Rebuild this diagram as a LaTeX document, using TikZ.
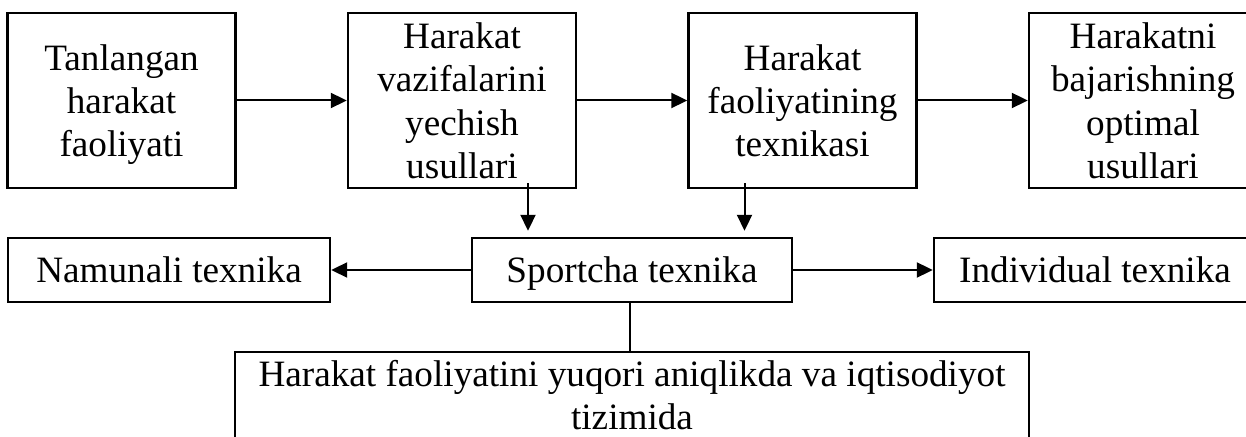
\documentclass[tikz,border=0pt]{standalone}
\usepackage{fontspec}
\setmainfont{Liberation Serif}
\usepackage{tikz}
\usetikzlibrary{arrows.meta,positioning,calc}

\begin{document}
\begin{tikzpicture}[
  x=0.5pt, y=-0.5pt,
  every node/.style={font=\fontsize{18.6}{21.6}\selectfont, text depth=0pt},
  box/.style={draw, line width=1.2pt, minimum width=114pt,
    minimum height=87.5pt, align=center, inner sep=2pt},
  widebox/.style={draw, line width=1.2pt, minimum width=161pt,
    minimum height=32pt, align=center, inner sep=2pt},
  link/.style={-{Triangle[length=8pt,width=7.5pt]}, line width=1pt}]
\clip (0,0) rectangle (1246,437);
\node[box] (chosen) at (121.5,100.5) {Tanlangan\\harakat\\faoliyati};
\node[box] (methods) at (462,100.5) {Harakat\\vazifalarini\\yechish\\usullari};
\node[box] (technique) at (802.5,100.5) {Harakat\\faoliyatining\\texnikasi};
\node[box] (optimal) at (1143,100.5) {Harakatni\\bajarishning\\optimal\\usullari};
\node[widebox] (model) at (169,270) {Namunali texnika};
\node[widebox, minimum width=160pt] (sport) at (632,270) {Sportcha texnika};
\node[widebox] (individual) at (1095,270) {Individual texnika};
\node[draw, line width=1.2pt, minimum width=397pt, minimum height=43pt,
      align=center, inner sep=2pt] (economy) at (632,395)
  {Harakat faoliyatini yuqori aniqlikda va iqtisodiyot\\tizimida};
\foreach \src/\dst in {chosen/methods, methods/technique, technique/optimal,
                        sport/model, sport/individual} {
  \draw[link] (\src) -- (\dst);}
\coordinate (m1) at ([xshift=33pt,yshift=3pt]methods.south);
\coordinate (m2) at ([xshift=-29pt,yshift=3pt]technique.south);
\foreach \c in {m1, m2} {
  \draw[link, shorten >=3pt] (\c) -- (\c |- sport.north);}
\draw[line width=1pt] ([xshift=-1pt]sport.south) -- ([xshift=-1pt]sport.south |- economy.north);
\end{tikzpicture}
\end{document}
